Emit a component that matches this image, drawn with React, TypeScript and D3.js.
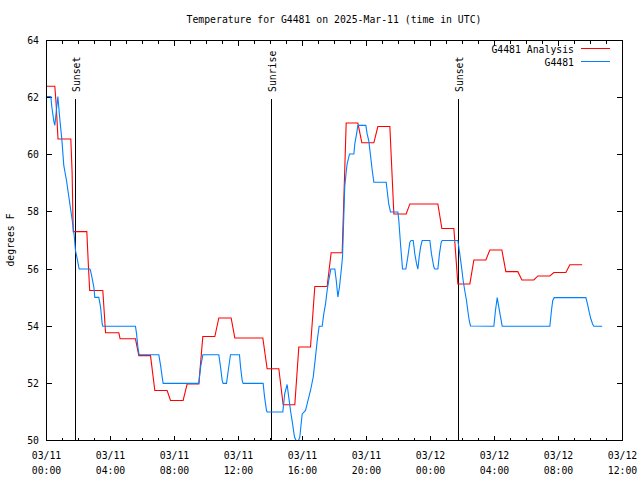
import React from "react";
import * as d3 from "d3";

// ---- data (hours since 2025-03-11 00:00 UTC) ----
const analysisHours = [0, 0.52, 0.6, 0.72, 1.52, 1.6, 1.67, 2.52, 2.62, 2.7, 3.52, 3.69, 4.52, 4.6, 5.56, 5.77, 6.5, 6.77, 7.54, 7.75, 8.54, 8.79, 9.52, 9.77, 10.52, 10.77, 11.54, 11.77, 13.52, 13.79, 14.52, 14.79, 15.52, 15.77, 16.5, 16.77, 17.54, 17.79, 18.48, 18.73, 19.46, 19.71, 20.46, 20.71, 21.46, 21.71, 22.48, 22.71, 24.46, 24.71, 25.46, 25.71, 26.46, 26.71, 27.46, 27.71, 28.46, 28.71, 29.46, 29.71, 30.46, 30.71, 31.46, 31.71, 32.46, 32.71, 33.48];
const analysisTemps = [62.4, 62.4, 61.8, 60.55, 60.55, 59.4, 57.31, 57.31, 56.1, 55.25, 55.25, 53.77, 53.77, 53.56, 53.56, 52.97, 52.97, 51.75, 51.75, 51.4, 51.4, 51.98, 51.98, 53.64, 53.64, 54.29, 54.29, 53.59, 53.59, 52.51, 52.51, 51.25, 51.25, 53.27, 53.27, 55.39, 55.39, 56.57, 56.57, 61.11, 61.11, 60.42, 60.42, 60.99, 60.99, 57.93, 57.93, 58.28, 58.28, 57.42, 57.42, 55.48, 55.48, 56.32, 56.32, 56.67, 56.67, 55.91, 55.91, 55.62, 55.62, 55.76, 55.76, 55.88, 55.88, 56.15, 56.15];

const obsHours = [0.02, 0.27, 0.33, 0.46, 0.52, 0.71, 0.83, 0.96, 1.08, 1.25, 1.46, 1.61, 1.73, 1.81, 1.92, 2.04, 2.71, 2.75, 2.86, 2.96, 3.02, 3.27, 3.38, 3.48, 3.52, 5.56, 5.63, 5.71, 5.79, 7.02, 7.13, 7.23, 7.29, 9.52, 9.63, 9.77, 10.77, 10.88, 10.98, 11.04, 11.25, 11.36, 11.5, 12.06, 12.13, 12.23, 12.29, 13.54, 13.63, 13.75, 13.79, 14.77, 14.89, 15.04, 15.14, 15.25, 15.38, 15.5, 15.6, 15.75, 15.83, 15.98, 16.19, 16.29, 16.5, 16.67, 16.81, 16.92, 17.04, 17.23, 17.33, 17.44, 17.54, 17.64, 17.77, 18.02, 18.11, 18.21, 18.31, 18.42, 18.5, 18.54, 18.58, 18.64, 18.73, 18.79, 18.94, 19.21, 19.27, 19.38, 19.46, 19.96, 20.04, 20.14, 20.25, 20.36, 20.46, 21.23, 21.29, 21.39, 21.5, 21.96, 22.02, 22.08, 22.14, 22.21, 22.25, 22.46, 22.58, 22.71, 22.79, 22.92, 23.02, 23.13, 23.21, 23.29, 23.38, 23.48, 23.96, 24.06, 24.21, 24.27, 24.46, 24.56, 24.67, 24.73, 25.71, 25.83, 25.94, 26.04, 26.14, 26.25, 26.33, 26.42, 26.5, 27.96, 28.06, 28.17, 28.27, 28.38, 28.48, 31.46, 31.56, 31.64, 31.73, 33.71, 33.81, 33.92, 34.02, 34.13, 34.21, 34.73];
const obsTemps = [62.04, 62.04, 61.69, 61.17, 61.03, 62.04, 61.26, 60.53, 59.63, 59.1, 58.28, 57.7, 57.18, 56.65, 56.36, 56.0, 56.0, 55.95, 55.66, 55.37, 55.01, 55.01, 54.67, 54.08, 54.0, 54.0, 53.73, 53.27, 53.0, 53.0, 52.63, 52.22, 52.0, 52.0, 52.57, 53.0, 53.0, 52.57, 52.1, 52.0, 52.0, 52.45, 53.0, 53.0, 52.57, 52.1, 52.0, 52.0, 51.52, 51.05, 51.0, 51.0, 51.64, 51.96, 51.52, 51.05, 50.58, 50.12, 50.0, 50.0, 50.12, 50.93, 51.05, 51.28, 51.75, 52.22, 52.92, 53.5, 54.0, 54.0, 54.43, 54.78, 55.25, 55.6, 56.0, 56.0, 55.6, 55.02, 55.37, 55.95, 56.42, 57.12, 57.82, 58.87, 59.39, 59.68, 60.03, 60.03, 60.38, 60.73, 61.03, 61.03, 60.73, 60.5, 59.98, 59.45, 59.04, 59.04, 58.75, 58.28, 58.0, 58.0, 57.7, 57.23, 56.77, 56.3, 56.0, 56.0, 56.42, 56.94, 57.0, 57.0, 56.53, 56.18, 56.0, 56.42, 56.77, 57.0, 57.0, 56.53, 56.07, 56.0, 56.0, 56.53, 56.94, 57.0, 57.0, 56.53, 56.07, 55.6, 55.25, 54.9, 54.55, 54.2, 54.01, 54.0, 54.55, 55.0, 54.67, 54.32, 54.0, 54.0, 54.55, 54.9, 55.0, 55.0, 54.78, 54.49, 54.26, 54.08, 54.0, 54.0];

const eventLabels = ["Sunset", "Sunrise", "Sunset"];
const eventHours = [1.83, 14.08, 25.77];

const xTickHours = [0, 4, 8, 12, 16, 20, 24, 28, 32, 36];
const xTickDates = ["03/11", "03/11", "03/11", "03/11", "03/11", "03/11", "03/12", "03/12", "03/12", "03/12"];
const xTickTimes = ["00:00", "04:00", "08:00", "12:00", "16:00", "20:00", "00:00", "04:00", "08:00", "12:00"];
const yTicks = [50, 52, 54, 56, 58, 60, 62, 64];

const seriesNames = ["G4481 Analysis", "G4481"];
const seriesColors = ["#ff0000", "#0080ff"];

const W = 640, H = 480;
const L = 46, R = 622, T = 40, B = 440;
const FONT = "'DejaVu Sans Mono', 'Liberation Mono', monospace";
const FS = 9.8;

export default function App() {
  const x = d3.scaleLinear().domain([0, 36]).range([L + 0.5, R + 0.5]);
  const y = d3.scaleLinear().domain([50, 64]).range([B + 0.5, T + 0.5]);
  const line = d3.line<[number, number]>().x(d => x(d[0])).y(d => y(d[1]));
  const redPts = analysisHours.map((h, i) => [h, analysisTemps[i]] as [number, number]);
  const bluePts = obsHours.map((h, i) => [h, obsTemps[i]] as [number, number]);
  const minorHours = d3.range(0, 37, 1);

  return (
    <svg width={W} height={H} style={{ position: "absolute", left: 0, top: 0, background: "#fff" }}
      fontFamily={FONT} fontSize={FS}>
      <rect x={0} y={0} width={W} height={H} fill="#fff" />
      <defs>
        <clipPath id="plotclip">
          <rect x={L} y={T} width={R - L + 1} height={B - T + 1} />
        </clipPath>
      </defs>
      <text x={(L + R) / 2} y={19} textAnchor="middle" dominantBaseline="central">
        Temperature for G4481 on 2025-Mar-11 (time in UTC)
      </text>
      {/* ticks */}
      <g stroke="#000" strokeWidth={1} shapeRendering="crispEdges">
        {minorHours.map(h => {
          const major = h % 4 === 0;
          const len = major ? 5 : 3;
          return (
            <g key={"xt" + h}>
              <line x1={x(h)} x2={x(h)} y1={B + 0.5} y2={B + 0.5 - len} />
              <line x1={x(h)} x2={x(h)} y1={T + 0.5} y2={T + 0.5 + len} />
            </g>
          );
        })}
        {yTicks.map(v => (
          <g key={"yt" + v}>
            <line x1={L + 0.5} x2={L + 6} y1={y(v)} y2={y(v)} />
            <line x1={R + 0.5} x2={R - 5} y1={y(v)} y2={y(v)} />
          </g>
        ))}
      </g>
      {/* tick labels */}
      {yTicks.map(v => (
        <text key={"yl" + v} x={39} y={y(v)} textAnchor="end" dominantBaseline="central">{v}</text>
      ))}
      {xTickHours.map((h, i) => (
        <g key={"xl" + h}>
          <text x={x(h)} y={455} textAnchor="middle" dominantBaseline="central">{xTickDates[i]}</text>
          <text x={x(h)} y={470} textAnchor="middle" dominantBaseline="central">{xTickTimes[i]}</text>
        </g>
      ))}
      <text transform={`translate(10,${(T + B) / 2}) rotate(-90)`} textAnchor="middle" dominantBaseline="central">
        degrees F
      </text>
      {/* sunrise / sunset */}
      {eventHours.map((h, i) => (
        <g key={"ev" + i}>
          <line x1={Math.floor(x(h)) + 0.5} x2={Math.floor(x(h)) + 0.5} y1={99} y2={B} stroke="#000" strokeWidth={1} shapeRendering="crispEdges" />
          <text transform={`translate(${Math.floor(x(h)) + 1},92) rotate(-90)`} textAnchor="start" dominantBaseline="central">
            {eventLabels[i]}
          </text>
        </g>
      ))}
      {/* data */}
      <g clipPath="url(#plotclip)">
        <path d={line(redPts) || ""} fill="none" stroke={seriesColors[0]} strokeWidth={1.1} />
        <path d={line(bluePts) || ""} fill="none" stroke={seriesColors[1]} strokeWidth={1.1} />
      </g>
      {/* border */}
      <rect x={L + 0.5} y={T + 0.5} width={R - L} height={B - T} fill="none" stroke="#000" strokeWidth={1} shapeRendering="crispEdges" />
      {/* legend */}
      {seriesNames.map((n, i) => (
        <g key={"lg" + i}>
          <text x={574} y={49 + i * 13} textAnchor="end" dominantBaseline="central">{n}</text>
          <line x1={581} x2={610} y1={48.5 + i * 13} y2={48.5 + i * 13} stroke={seriesColors[i]} strokeWidth={1} shapeRendering="crispEdges" />
        </g>
      ))}
    </svg>
  );
}
